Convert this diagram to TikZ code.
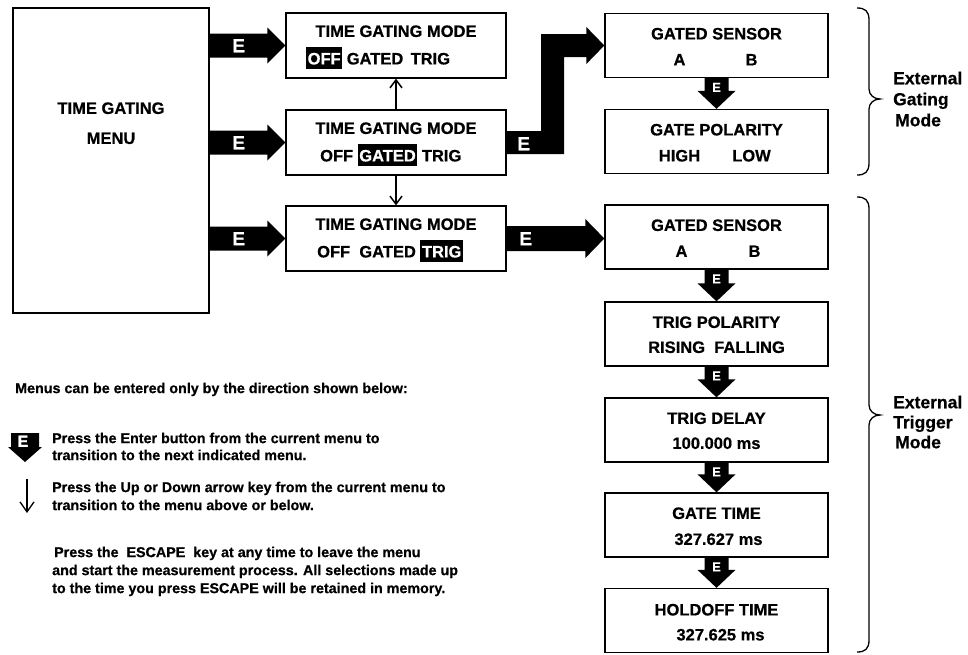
\documentclass[tikz,border=0pt]{standalone}
\usepackage{fontspec}
\setmainfont{Liberation Sans}[BoldFeatures={FakeBold=0.6}]
\usetikzlibrary{calc,arrows.meta}

\newcommand\hlw[1]{{\setlength\fboxsep{1.5pt}\colorbox{black}{\rule[-3.5pt]{0pt}{19pt}\textcolor{white}{#1}}}}
% horizontal block arrow: start, tip, body half width, head half width, head length
\newcommand\HArr[5]{\fill let \p1=(#1),\p2=(#2) in (\x1,\y2+#3) -- (\x2-#5,\y2+#3) -- (\x2-#5,\y2+#4) -- (\x2,\y2) -- (\x2-#5,\y2-#4) -- (\x2-#5,\y2-#3) -- (\x1,\y2-#3) -- cycle;}
% downward block arrow
\newcommand\DArr[5]{\fill let \p1=(#1),\p2=(#2) in (\x2-#3,\y1) -- (\x2-#3,\y2+#5) -- (\x2-#4,\y2+#5) -- (\x2,\y2) -- (\x2+#4,\y2+#5) -- (\x2+#3,\y2+#5) -- (\x2+#3,\y1) -- cycle;}

\tikzset{
 box/.style={draw, line width=1.3pt, inner sep=0pt},
 tt/.style={font=\bfseries\fontsize{16.5}{18}\selectfont, inner sep=0pt, text height=11.8pt, text depth=0pt},
 lg/.style={font=\bfseries\fontsize{14.3}{16}\selectfont, inner sep=0pt, text height=10.2pt, text depth=0pt, anchor=west},
 ext/.style={font=\bfseries\fontsize{17.5}{19}\selectfont, inner sep=0pt, text height=12.5pt, text depth=0pt, anchor=west},
 elab/.style={text=white, font=\bfseries\fontsize{19}{20}\selectfont, inner sep=0pt, text height=13.6pt, text depth=0pt},
 elabm/.style={text=white, font=\bfseries\fontsize{16}{17}\selectfont, inner sep=0pt, text height=11.5pt, text depth=0pt},
 elabs/.style={text=white, font=\bfseries\fontsize{13}{14}\selectfont, inner sep=0pt, text height=9.3pt, text depth=0pt},
 updn/.style={line width=1.5pt, -{Straight Barb[length=8pt,width=12pt]}},
 brace/.style={line width=1.3pt},
}

\begin{document}
\begin{tikzpicture}[x=1pt,y=-1pt]
\fill[white] (0,0) rectangle (968,654);
\useasboundingbox (0,0) rectangle (968,654);

% left menu box
\node[box, minimum width=196pt, minimum height=305pt] (menu) at (111,160.5) {};
\node[tt] (menuA) at (111,108) {TIME GATING};
\node[tt] (menuB) at (111,138) {MENU};

% middle column
\foreach \n/\y in {off/45.5, gated/142.5, trig/238.5}
  \node[box, minimum width=220pt, minimum height=65pt] (\n) at (396,\y) {};
\node[tt] (offT) at ($(off.center)+(0,-14.5)$) {TIME GATING MODE};
\node[tt] (gatedT) at ($(gated.center)+(0,-14.5)$) {TIME GATING MODE};
\node[tt] (trigT) at ($(trig.center)+(0,-14.5)$) {TIME GATING MODE};
\node[tt, anchor=west] (offL) at (306,58.5) {\hlw{OFF} GATED\ \,TRIG};
\node[tt, anchor=west] (gatedL) at (320,155.5) {OFF \hlw{GATED} TRIG};
\node[tt, anchor=west] (trigL) at (317,251.5) {OFF\ \ GATED \hlw{TRIG}};

% right column
\foreach \n/\y in {gsA/45.5, gp/141.5, gsB/237, tp/334, td/430, gt/525, ho/620.5}
  \node[box, minimum width=223pt, minimum height=64pt] (\n) at (716.5,\y) {};
\node[tt] (gsAT) at ($(gsA.center)+(0,-12)$) {GATED SENSOR};
\node[tt] (gsAa) at ($(gsA.center)+(-37,14)$) {A};
\node[tt] (gsAb) at ($(gsA.center)+(35,14)$) {B};
\node[tt] (gpT) at ($(gp.center)+(0,-12)$) {GATE POLARITY};
\node[tt] (gpH) at ($(gp.center)+(-37,14)$) {HIGH};
\node[tt] (gpL) at ($(gp.center)+(35,14)$) {LOW};
\node[tt] (gsBT) at ($(gsB.center)+(0,-12)$) {GATED SENSOR};
\node[tt] (gsBa) at ($(gsB.center)+(-35,14)$) {A};
\node[tt] (gsBb) at ($(gsB.center)+(38,14)$) {B};
\node[tt] (tpT) at ($(tp.center)+(0,-12)$) {TRIG POLARITY};
\node[tt] (tpL) at ($(tp.center)+(0,13)$) {RISING\ \ FALLING};
\node[tt] (tdT) at ($(td.center)+(0,-12)$) {TRIG DELAY};
\node[tt] (tdL) at ($(td.center)+(0,13)$) {100.000 ms};
\node[tt] (gtT) at ($(gt.center)+(0,-12)$) {GATE TIME};
\node[tt] (gtL) at ($(gt.center)+(2,14)$) {327.627 ms};
\node[tt] (hoT) at ($(ho.center)+(0,-11)$) {HOLDOFF TIME};
\node[tt] (hoL) at ($(ho.center)+(4,14)$) {327.625 ms};

% E arrows from the menu
\HArr{menu.east |- off.west}{off.west}{12pt}{18pt}{18pt}
\HArr{menu.east |- gated.west}{gated.west}{12pt}{18pt}{18pt}
\HArr{menu.east |- trig.west}{trig.west}{12pt}{18pt}{18pt}
\node[elab] (e1) at ($(menu.east |- off.west)+(29,0)$) {E};
\node[elab] (e2) at ($(menu.east |- gated.west)+(29,0)$) {E};
\node[elab] (e3) at ($(menu.east |- trig.west)+(29,0)$) {E};

% elbow arrow gated -> gated sensor
\fill let \p1=(gated.east), \p2=(gsA.west) in
 (\x1,\y1+11.5pt) -- (\x1+34.5pt,\y1+11.5pt) -- (\x1+34.5pt,\y2+11.5pt) -- (\x2-18pt,\y2+11.5pt)
 -- (\x2-18pt,\y2+18.5pt) -- (\x2,\y2) -- (\x2-18pt,\y2-18.5pt) -- (\x2-18pt,\y2-11.5pt)
 -- (\x1+57.5pt,\y2-11.5pt) -- (\x1+57.5pt,\y1-11.5pt) -- (\x1,\y1-11.5pt) -- cycle;
\node[elab] (e4) at ($(gated.east)+(17,1)$) {E};

% trig -> gated sensor (trigger)
\HArr{trig.east}{gsB.west |- trig.east}{12.5pt}{19.5pt}{19pt}
\node[elab] (e5) at ($(trig.east)+(19,0)$) {E};

% up/down arrows
\draw[updn] (gated.north) -- (off.south);
\draw[updn] (gated.south) -- (trig.north);

% down E arrows in right column
\foreach \a/\b in {gsA/gp, gsB/tp, tp/td, td/gt, gt/ho}{
  \DArr{\a.south}{\b.north}{12pt}{19pt}{18pt}
  \node[elabs] (es\a) at ($(\a.south)+(0,9)$) {E};
}

% braces
\draw[brace] (857,8) .. controls (865,8) and (869,11) .. (869,20) -- (869,89)
  .. controls (869,95) and (874,99) .. (880,99) .. controls (874,99) and (869,103) .. (869,109)
  -- (869,163) .. controls (869,172) and (865,175) .. (857,175);
\draw[brace] (857,197) .. controls (865,197) and (869,200) .. (869,209) -- (869,405)
  .. controls (869,411) and (874,415) .. (880,415) .. controls (874,415) and (869,419) .. (869,425)
  -- (869,640) .. controls (869,649) and (865,652) .. (857,652);
\node[ext] (x1) at (893,78) {External};
\node[ext] (x2) at (893,99) {Gating};
\node[ext] (x3) at (895,120) {Mode};
\node[ext] (x4) at (893,402) {External};
\node[ext] (x5) at (893,422) {Trigger};
\node[ext] (x6) at (895,442) {Mode};

% legend
\node[lg] (l0) at (15,388) {Menus can be entered only by the direction shown below:};
\coordinate (le1) at (25,433);
\coordinate (le2) at (25,462);
\DArr{le1}{le2}{14pt}{17pt}{15pt}
\node[elabm] (le) at (23,441) {E};
\node[lg] (l1) at (52,438) {Press the Enter button from the current menu to};
\node[lg] (l2) at (52,455) {transition to the next indicated menu.};
\coordinate (ld1) at (27,479);
\coordinate (ld2) at (27,513);
\draw[line width=1.3pt, -{Straight Barb[length=10pt,width=14pt]}] (ld1) -- (ld2);
\node[lg] (l3) at (52,487) {Press the Up or Down arrow key from the current menu to};
\node[lg] (l4) at (52,505) {transition to the menu above or below.};
\node[lg] (l5) at (54,552) {Press the\ \ ESCAPE\ \ key at any time to leave the menu};
\node[lg] (l6) at (52,570) {and start the measurement process. All selections made up};
\node[lg] (l7) at (52,588) {to the time you press ESCAPE will be retained in memory.};
\end{tikzpicture}
\end{document}
